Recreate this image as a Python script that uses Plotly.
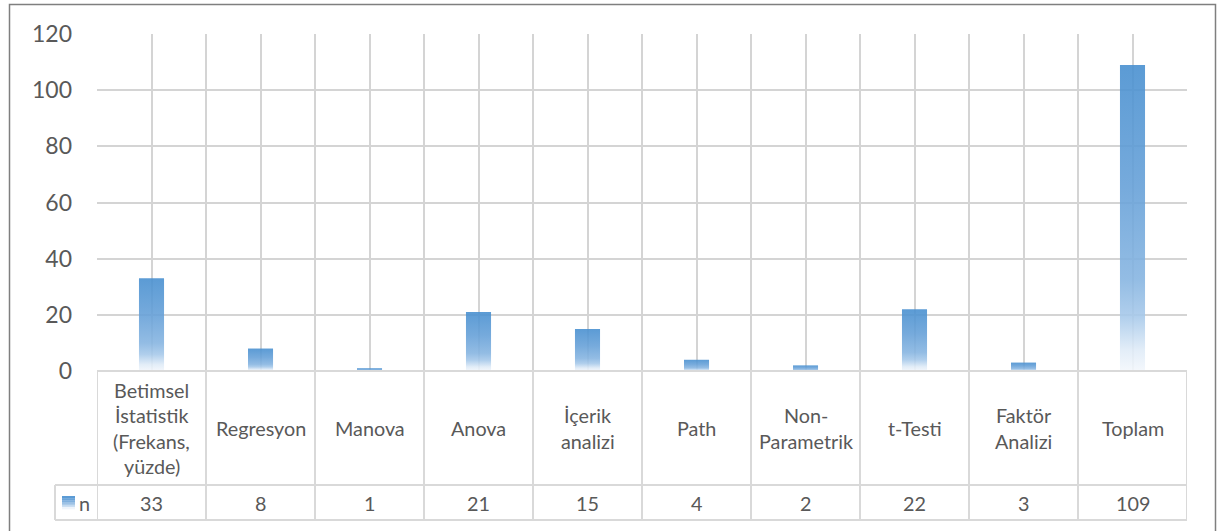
import plotly.graph_objects as go

# ---- data ----
categories = [
    "Betimsel<br>İstatistik<br>(Frekans,<br>yüzde)",
    "Regresyon",
    "Manova",
    "Anova",
    "İçerik<br>analizi",
    "Path",
    "Non-<br>Parametrik",
    "t-Testi",
    "Faktör<br>Analizi",
    "Toplam",
]
values = [33, 8, 1, 21, 15, 4, 2, 22, 3, 109]
series_name = "n"
y_ticks = [0, 20, 40, 60, 80, 100, 120]

# ---- layout geometry (pixels) ----
W, H = 1218, 531
L, R, T, B = 97, 31, 34, 160
PW = W - L - R
PH = H - T - B
Y0 = H - B  # pixel y of the plot bottom (value 0)
ROW1 = 485  # header row bottom
ROW2 = 520  # value row bottom
LEG_LEFT = 55

TXT = "#595959"
GRID = "#D4D4D4"
TABLE = "#D9D9D9"
FONT = "Lato, 'Open Sans', sans-serif"
TSIZE = 19.8


def py(p):
    """pixel y -> paper y"""
    return (Y0 - p) / PH


def px(p):
    return (p - L) / PW


def comp(hexc, a=0.9):
    """rgba whose composite over white gives hexc"""
    hexc = hexc.lstrip("#")
    rgb = [int(hexc[i:i + 2], 16) for i in (0, 2, 4)]
    c = [max(0, min(255, round((v - (1 - a) * 255) / a))) for v in rgb]
    return f"rgba({c[0]},{c[1]},{c[2]},{a})"


grad = [
    [0.0, comp("#F4F8FC")],
    [0.07, comp("#E2EDF8")],
    [0.18, comp("#B0CEEC")],
    [0.3, comp("#93BCE4")],
    [0.6, comp("#76AADC")],
    [1.0, comp("#5B9BD5")],
]

n = len(categories)
half = 0.115

fig = go.Figure()
for i, v in enumerate(values):
    fig.add_trace(go.Scatter(
        x=[i - half, i - half, i + half, i + half, i - half],
        y=[0, v, v, 0, 0],
        mode="lines",
        fill="toself",
        fillgradient=dict(type="vertical", colorscale=grad),
        line=dict(width=0, color="rgba(0,0,0,0)"),
        name=series_name,
        showlegend=False,
        hoverinfo="skip",
    ))

shapes = []
annotations = []
line_style = dict(color=TABLE, width=2)

# table horizontal lines
shapes.append(dict(type="line", xref="paper", yref="paper",
                   x0=0, x1=1, y0=py(Y0), y1=py(Y0), line=line_style))
for yy in (ROW1, ROW2):
    shapes.append(dict(type="line", xref="paper", yref="paper",
                       x0=px(LEG_LEFT), x1=1, y0=py(yy), y1=py(yy), line=line_style))
# table vertical lines at category boundaries
for k in range(n + 1):
    shapes.append(dict(type="line", xref="x", yref="paper",
                       x0=k - 0.5, x1=k - 0.5, y0=py(Y0), y1=py(ROW2), line=line_style))
shapes.append(dict(type="line", xref="paper", yref="paper",
                   x0=px(LEG_LEFT), x1=px(LEG_LEFT), y0=py(ROW1), y1=py(ROW2), line=line_style))

# outer chart border
shapes.append(dict(type="rect", xref="paper", yref="paper",
                   x0=px(9.5), x1=px(1215.5), y0=py(545), y1=py(4.5),
                   line=dict(color="#7F7F7F", width=1.5), fillcolor="rgba(0,0,0,0)"))

# legend swatch (gradient strips)
sw_x0, sw_x1, sw_y0, sw_y1 = 62, 75, 496, 509
strip_cols = ["#5B9BD5", "#6AA4D9", "#7FB0DE", "#9DC2E6", "#C3DAF0", "#EEF4FB"]
sh = (sw_y1 - sw_y0) / len(strip_cols)
for k, c in enumerate(strip_cols):
    shapes.append(dict(type="rect", xref="paper", yref="paper",
                       x0=px(sw_x0), x1=px(sw_x1),
                       y0=py(sw_y0 + k * sh), y1=py(sw_y0 + (k + 1) * sh + 0.3),
                       line=dict(width=0), fillcolor=c))
annotations.append(dict(xref="paper", yref="paper", x=px(84), y=py(502.5),
                        text=series_name, showarrow=False,
                        font=dict(family=FONT, size=TSIZE, color=TXT),
                        xanchor="center", yanchor="middle"))

# category labels (header row), one annotation per line
line_gap = 25.5
hdr_mid = (Y0 + ROW1) / 2
for i, lab in enumerate(categories):
    parts = lab.split("<br>")
    m = len(parts)
    for j, part in enumerate(parts):
        yy = hdr_mid + (j - (m - 1) / 2) * line_gap
        annotations.append(dict(xref="x", yref="paper", x=i, y=py(yy),
                                text=part, showarrow=False,
                                font=dict(family=FONT, size=TSIZE, color=TXT),
                                xanchor="center", yanchor="middle"))
# value row
val_mid = (ROW1 + ROW2) / 2
for i, v in enumerate(values):
    annotations.append(dict(xref="x", yref="paper", x=i, y=py(val_mid),
                            text=str(v), showarrow=False,
                            font=dict(family=FONT, size=TSIZE, color=TXT),
                            xanchor="center", yanchor="middle"))

fig.update_layout(
    width=W, height=H,
    margin=dict(l=L, r=R, t=T, b=B, pad=0),
    paper_bgcolor="white",
    plot_bgcolor="white",
    showlegend=False,
    shapes=shapes,
    annotations=annotations,
    font=dict(family=FONT, color=TXT),
)
fig.update_xaxes(
    range=[-0.5, n - 0.5],
    tickvals=[k * 0.5 - 0.5 for k in range(2 * n + 1)],
    showticklabels=False,
    showgrid=True, gridcolor=GRID, gridwidth=1.5,
    zeroline=False, showline=False, ticks="",
    fixedrange=True,
)
fig.update_yaxes(
    range=[0, 120],
    tickvals=y_ticks,
    tickfont=dict(family=FONT, size=23, color=TXT),
    showgrid=True, gridcolor=GRID, gridwidth=1.5,
    zeroline=False, showline=False, ticks="",
    ticklabelstandoff=24,
    fixedrange=True,
)

fig.write_html(
    "out.html",
    config={"displayModeBar": False},
    post_script=["document.body.style.margin='0';document.body.style.overflow='hidden';"],
)
